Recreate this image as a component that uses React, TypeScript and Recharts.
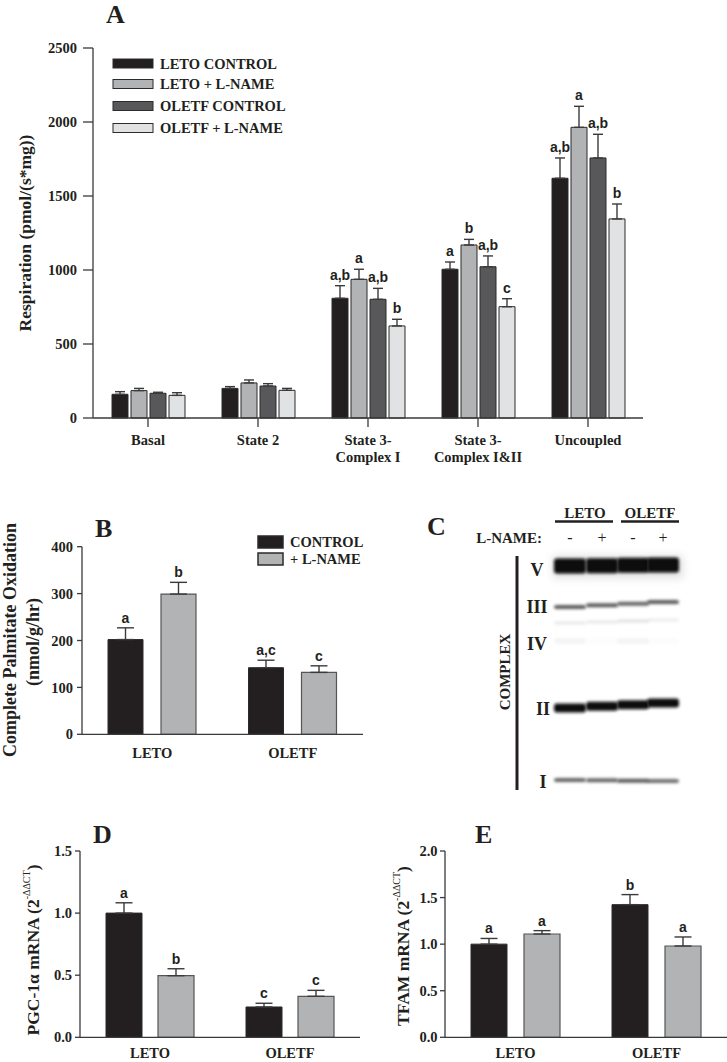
import React from 'react';
import { BarChart, Bar, XAxis, YAxis, ErrorBar, LabelList } from 'recharts';

const SERIF = "'Liberation Serif', 'Times New Roman', Times, serif";
const SANS = "'Liberation Sans', Arial, Helvetica, sans-serif";
const INK = '#231f20';
const AXIS = '#3a3a3a';

const C_BLACK = '#231f20';
const C_GREY = '#b1b3b5';
const C_DARK = '#58585a';
const C_LIGHT = '#e1e2e3';

// ---------- Panel A : respiration ----------
const respCategories = ['Basal', 'State 2', 'State 3-\nComplex I', 'State 3-\nComplex I&II', 'Uncoupled'];
const respSeries = ['LETO CONTROL', 'LETO + L-NAME', 'OLETF CONTROL', 'OLETF + L-NAME'];
const letoControl = [160, 200, 809, 1005, 1620];
const letoControlErr = [18, 12, 85, 49, 137];
const letoLname = [185, 237, 937, 1169, 1964];
const letoLnameErr = [15, 20, 68, 38, 142];
const oletfControl = [167, 216, 802, 1022, 1757];
const oletfControlErr = [7, 16, 74, 73, 160];
const oletfLname = [153, 187, 622, 752, 1345];
const oletfLnameErr = [18, 13, 45, 54, 101];
const letoControlSig = ['', '', 'a,b', 'a', 'a,b'];
const letoLnameSig = ['', '', 'a', 'b', 'a'];
const oletfControlSig = ['', '', 'a,b', 'a,b', 'a,b'];
const oletfLnameSig = ['', '', 'b', 'c', 'b'];
const respTicks = [0, 500, 1000, 1500, 2000, 2500];

// ---------- Panel B : palmitate oxidation ----------
const groups = ['LETO', 'OLETF'];
const palmControl = [202, 142];
const palmControlErr = [25, 16];
const palmLname = [299, 132];
const palmLnameErr = [25, 14];
const palmControlSig = ['a', 'a,c'];
const palmLnameSig = ['b', 'c'];
const palmTicks = [0, 100, 200, 300, 400];
const treatSeries = ['CONTROL', '+ L-NAME'];

// ---------- Panel D : PGC-1α ----------
const pgcControl = [1.0, 0.244];
const pgcControlErr = [0.083, 0.03];
const pgcLname = [0.496, 0.33];
const pgcLnameErr = [0.056, 0.048];
const pgcControlSig = ['a', 'c'];
const pgcLnameSig = ['b', 'c'];
const pgcTicks = [0, 0.5, 1.0, 1.5];

// ---------- Panel E : TFAM ----------
const tfamControl = [1.0, 1.424];
const tfamControlErr = [0.061, 0.108];
const tfamLname = [1.109, 0.98];
const tfamLnameErr = [0.036, 0.097];
const tfamControlSig = ['a', 'b'];
const tfamLnameSig = ['a', 'a'];
const tfamTicks = [0, 0.5, 1.0, 1.5, 2.0];

// ---------- Panel C : blot ----------
const blotLanes = [570, 602, 633, 663];
const blotLaneSigns = ['-', '+', '-', '+'];
const blotComplexes = ['V', 'III', 'IV', 'II', 'I'];

const respData = respCategories.map((name, i) => ({
  name,
  lc: letoControl[i], lcErr: [0, letoControlErr[i]], lcSig: letoControlSig[i],
  ll: letoLname[i], llErr: [0, letoLnameErr[i]], llSig: letoLnameSig[i],
  oc: oletfControl[i], ocErr: [0, oletfControlErr[i]], ocSig: oletfControlSig[i],
  ol: oletfLname[i], olErr: [0, oletfLnameErr[i]], olSig: oletfLnameSig[i],
}));

const twoGroup = (c: number[], ce: number[], cs: string[], l: number[], le: number[], ls: string[]) =>
  groups.map((name, i) => ({
    name,
    c: c[i], cErr: [0, ce[i]], cSig: cs[i],
    l: l[i], lErr: [0, le[i]], lSig: ls[i],
  }));

const palmData = twoGroup(palmControl, palmControlErr, palmControlSig, palmLname, palmLnameErr, palmLnameSig);
const pgcData = twoGroup(pgcControl, pgcControlErr, pgcControlSig, pgcLname, pgcLnameErr, pgcLnameSig);
const tfamData = twoGroup(tfamControl, tfamControlErr, tfamControlSig, tfamLname, tfamLnameErr, tfamLnameSig);

const sigLabel = (values: number[], errs: number[], fontSize = 14, gap = 4) => (props: any) => {
  const { index, value } = props;
  if (!value) return null;
  const vb = props.viewBox || {};
  const x = vb.x ?? props.x;
  const y = vb.y ?? props.y;
  const w = vb.width ?? props.width;
  const h = vb.height ?? props.height;
  const v = values[index];
  const e = errs[index];
  const top = y - (e * h) / v;
  return (
    <text x={x + w / 2} y={top - gap} textAnchor="middle" fontFamily={SANS} fontWeight="bold" fontSize={fontSize} fill={INK}>
      {value}
    </text>
  );
};

const makeXTick = (offset: number, lh: number, fs: number) => (props: any) => {
  const { x, y, payload } = props;
  const lines = String(payload.value).split('\n');
  return (
    <text x={x} y={y + offset} textAnchor="middle" fontFamily={SERIF} fontWeight="bold" fontSize={fs} fill={INK}>
      {lines.map((l, i) => (
        <tspan key={i} x={x} dy={i === 0 ? 0 : lh}>{l}</tspan>
      ))}
    </text>
  );
};

const yTickStyle = { fontFamily: SERIF, fontWeight: 'bold' as const, fontSize: 14.5, fill: INK };
const barStroke = { stroke: '#2b2b2b', strokeWidth: 1 };
const errStyle = { stroke: '#3a3a3a', strokeWidth: 1.4 };

function RespChart() {
  const series = [
    { key: 'lc', fill: C_BLACK, v: letoControl, e: letoControlErr },
    { key: 'll', fill: C_GREY, v: letoLname, e: letoLnameErr },
    { key: 'oc', fill: C_DARK, v: oletfControl, e: oletfControlErr },
    { key: 'ol', fill: C_LIGHT, v: oletfLname, e: oletfLnameErr },
  ];
  return (
    <BarChart width={727} height={480} data={respData} margin={{ top: 48, right: 84, left: 33, bottom: 12 }} barGap={3}>
      <XAxis dataKey="name" height={50} tickSize={9} tickMargin={0} stroke={AXIS} axisLine={{ stroke: AXIS, strokeWidth: 1.3 }}
        tickLine={{ stroke: AXIS, strokeWidth: 1.3 }} tick={makeXTick(17.5, 17, 14.5)} interval={0} />
      <YAxis width={60} domain={[0, 2500]} ticks={respTicks} tickSize={10} tickMargin={6} stroke={AXIS}
        axisLine={{ stroke: AXIS, strokeWidth: 1.3 }} tickLine={{ stroke: AXIS, strokeWidth: 1.3 }} tick={yTickStyle} />
      {series.map((s) => (
        <Bar key={s.key} dataKey={s.key} fill={s.fill} {...barStroke} barSize={16} isAnimationActive={false}>
          <ErrorBar dataKey={`${s.key}Err`} width={5} {...errStyle} />
          <LabelList dataKey={`${s.key}Sig`} content={sigLabel(s.v, s.e, 14, 6)} />
        </Bar>
      ))}
    </BarChart>
  );
}

function TwoGroupChart(p: {
  data: any[]; width: number; height: number; margin: any; yWidth: number; domain: [number, number];
  ticks: number[]; tickSize: number; tickMargin: number; barSize: number; barGap: number; xOffset: number;
  c: number[]; ce: number[]; l: number[]; le: number[]; fmt?: (v: number) => string;
}) {
  return (
    <BarChart width={p.width} height={p.height} data={p.data} margin={p.margin} barGap={p.barGap}>
      <XAxis dataKey="name" height={p.margin.xh} tickSize={0} tickMargin={0} tickLine={false} stroke={AXIS}
        axisLine={{ stroke: AXIS, strokeWidth: 1.3 }} tick={makeXTick(p.xOffset, 17, 14.5)} interval={0} />
      <YAxis width={p.yWidth} domain={p.domain} ticks={p.ticks} tickSize={p.tickSize} tickMargin={p.tickMargin} stroke={AXIS}
        axisLine={{ stroke: AXIS, strokeWidth: 1.3 }} tickLine={{ stroke: AXIS, strokeWidth: 1.3 }} tick={yTickStyle}
        tickFormatter={p.fmt} />
      <Bar dataKey="c" fill={C_BLACK} {...barStroke} barSize={p.barSize} isAnimationActive={false}>
        <ErrorBar dataKey="cErr" width={8.5} {...errStyle} />
        <LabelList dataKey="cSig" content={sigLabel(p.c, p.ce, 14, 5)} />
      </Bar>
      <Bar dataKey="l" fill={C_GREY} stroke="#555" strokeWidth={1.2} barSize={p.barSize} isAnimationActive={false}>
        <ErrorBar dataKey="lErr" width={8.5} {...errStyle} />
        <LabelList dataKey="lSig" content={sigLabel(p.l, p.le, 14, 5)} />
      </Bar>
    </BarChart>
  );
}

const fmt1 = (v: number) => v.toFixed(1);

function Overlay() {
  const legendA = [C_BLACK, C_GREY, C_DARK, C_LIGHT];
  const legendAY = [63.5, 84, 106, 128];
  const bandRows = [
    { y: 566, h: 15, tilt: -1, fill: '#0b0b0b', op: [1, 1, 1, 1] },
    { y: 607, h: 4, tilt: -5, fill: '#333', op: [0.8, 0.8, 0.75, 0.8] },
    { y: 623, h: 3, tilt: -3, fill: '#888', op: [0.2, 0.2, 0.25, 0.15] },
    { y: 641, h: 6, tilt: 0, fill: '#aaa', op: [0.12, 0.03, 0.12, 0.04] },
    { y: 708, h: 9, tilt: -5, fill: '#111', op: [1, 1, 1, 1] },
    { y: 780, h: 4, tilt: 1, fill: '#333', op: [0.75, 0.75, 0.8, 0.7] },
  ];
  const title = (t: string, x: number, y: number) => (
    <text x={x} y={y} fontFamily={SERIF} fontWeight="bold" fontSize={26} fill={INK}>{t}</text>
  );
  return (
    <svg width={727} height={1062} style={{ position: 'absolute', left: 0, top: 0, pointerEvents: 'none' }}>
      <defs>
        <filter id="blur" x="-20%" y="-200%" width="140%" height="500%">
          <feGaussianBlur stdDeviation="1.5" />
        </filter>
        <filter id="haze" x="-20%" y="-200%" width="140%" height="500%">
          <feGaussianBlur stdDeviation="4" />
        </filter>
      </defs>
      {/* Panel A */}
      {title('A', 106, 23)}
      <text transform="translate(25,233) rotate(-90)" textAnchor="middle" dominantBaseline="central"
        fontFamily={SERIF} fontWeight="bold" fontSize={17.5} fill={INK}>Respiration (pmol/(s*mg))</text>
      {respSeries.map((s, i) => (
        <g key={s}>
          <rect x={113} y={legendAY[i] - 4.5} width={40} height={9} fill={legendA[i]} stroke="#2b2b2b" strokeWidth={1} />
          <text x={160} y={legendAY[i] + 5} fontFamily={SERIF} fontWeight="bold" fontSize={14.5} fill={INK}>{s}</text>
        </g>
      ))}
      {/* Panel B */}
      {title('B', 95, 537)}
      <text transform="translate(10,640) rotate(-90)" textAnchor="middle" dominantBaseline="central"
        fontFamily={SERIF} fontWeight="bold" fontSize={18} fill={INK}>Complete Palmitate Oxidation</text>
      <text transform="translate(33,642) rotate(-90)" textAnchor="middle" dominantBaseline="central"
        fontFamily={SERIF} fontWeight="bold" fontSize={18} fill={INK}>(nmol/g/hr)</text>
      {treatSeries.map((s, i) => (
        <g key={s}>
          <rect x={258} y={536 + i * 17} width={25} height={12} fill={i === 0 ? C_BLACK : C_GREY} stroke="#2b2b2b" strokeWidth={1.5} />
          <text x={290} y={547 + i * 17} fontFamily={SERIF} fontWeight="bold" fontSize={14.5} fill={INK}>{s}</text>
        </g>
      ))}
      {/* Panel C */}
      {title('C', 427, 535)}
      <text x={585} y={518} textAnchor="middle" fontFamily={SERIF} fontWeight="bold" fontSize={15} fill={INK}>LETO</text>
      <text x={650} y={518} textAnchor="middle" fontFamily={SERIF} fontWeight="bold" fontSize={15} fill={INK}>OLETF</text>
      <line x1={555} x2={613} y1={521.5} y2={521.5} stroke={INK} strokeWidth={2.5} />
      <line x1={621} x2={679} y1={521.5} y2={521.5} stroke={INK} strokeWidth={2.5} />
      <text x={542} y={543} textAnchor="end" fontFamily={SERIF} fontWeight="bold" fontSize={15} fill={INK}>L-NAME:</text>
      {blotLanes.map((x, i) => (
        <text key={i} x={x} y={543} textAnchor="middle" fontFamily={SERIF} fontSize={16} fill={INK}>{blotLaneSigns[i]}</text>
      ))}
      <line x1={517} x2={517} y1={556} y2={790} stroke={INK} strokeWidth={3} />
      <text transform="translate(505,672) rotate(-90)" textAnchor="middle" dominantBaseline="central"
        fontFamily={SERIF} fontWeight="bold" fontSize={15} fill={INK}>COMPLEX</text>
      {[
        { t: blotComplexes[0], x: 537, y: 576 },
        { t: blotComplexes[1], x: 537, y: 613 },
        { t: blotComplexes[2], x: 537, y: 650 },
        { t: blotComplexes[3], x: 543, y: 715 },
        { t: blotComplexes[4], x: 543, y: 788 },
      ].map((r) => (
        <text key={r.t} x={r.x} y={r.y} textAnchor="middle" fontFamily={SERIF} fontWeight="bold" fontSize={18} fill={INK}>{r.t}</text>
      ))}
      <rect x={553} y={556} width={130} height={22} fill="#999" opacity={0.3} filter="url(#haze)" />
      {bandRows.map((b, r) =>
        blotLanes.map((x, i) => (
          <rect key={`${r}-${i}`} x={x - 16} y={b.y + (b.tilt * i) / 3 - b.h / 2} width={32} height={b.h} rx={3}
            fill={b.fill} opacity={b.op[i]} filter="url(#blur)" />
        ))
      )}
      {/* Panel D */}
      {title('D', 93, 843)}
      <text transform="translate(33,950) rotate(-90)" textAnchor="middle" dominantBaseline="central"
        fontFamily={SERIF} fontWeight="bold" fontSize={17.5} fill={INK}>
        PGC-1α mRNA (2<tspan fontSize={10} fontWeight="normal" dy={-7}>-ΔΔCT</tspan><tspan dy={7}>)</tspan>
      </text>
      {/* Panel E */}
      {title('E', 475, 843)}
      <text transform="translate(403,946) rotate(-90)" textAnchor="middle" dominantBaseline="central"
        fontFamily={SERIF} fontWeight="bold" fontSize={17.5} fill={INK}>
        TFAM mRNA (2<tspan fontSize={10} fontWeight="normal" dy={-7}>-ΔΔCT</tspan><tspan dy={7}>)</tspan>
      </text>
    </svg>
  );
}

export default function App() {
  return (
    <div style={{ position: 'absolute', left: 0, top: 0, width: 727, height: 1062, background: '#fff', overflow: 'hidden' }}>
      <div style={{ position: 'absolute', left: 0, top: 0 }}>
        <RespChart />
      </div>
      <div style={{ position: 'absolute', left: 0, top: 500 }}>
        <TwoGroupChart data={palmData} width={380} height={280}
          margin={{ top: 46.7, right: 17, left: 32, bottom: 15.7, xh: 30 }} yWidth={50} domain={[0, 400]} ticks={palmTicks}
          tickSize={5} tickMargin={4} barSize={35} barGap={18} xOffset={24}
          c={palmControl} ce={palmControlErr} l={palmLname} le={palmLnameErr} />
      </div>
      <div style={{ position: 'absolute', left: 0, top: 800 }}>
        <TwoGroupChart data={pgcData} width={380} height={262}
          margin={{ top: 51, right: 20, left: 30, bottom: 4.7, xh: 20 }} yWidth={50} domain={[0, 1.5]} ticks={pgcTicks}
          tickSize={5} tickMargin={3} barSize={36} barGap={16} xOffset={20.7}
          c={pgcControl} ce={pgcControlErr} l={pgcLname} le={pgcLnameErr} fmt={fmt1} />
      </div>
      <div style={{ position: 'absolute', left: 380, top: 800 }}>
        <TwoGroupChart data={tfamData} width={347} height={262}
          margin={{ top: 51, right: 0, left: 15, bottom: 4.7, xh: 20 }} yWidth={50} domain={[0, 2]} ticks={tfamTicks}
          tickSize={5} tickMargin={2.5} barSize={36} barGap={17} xOffset={20.7}
          c={tfamControl} ce={tfamControlErr} l={tfamLname} le={tfamLnameErr} fmt={fmt1} />
      </div>
      <Overlay />
    </div>
  );
}
